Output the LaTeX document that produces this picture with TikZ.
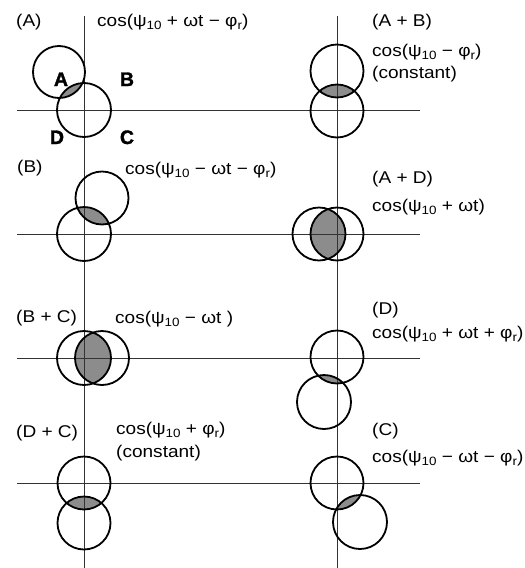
\documentclass[tikz,border=0pt]{standalone}
\usepackage{fontspec}
\usepackage{graphicx}
\setmainfont{Liberation Sans}
\newfontfamily\heavyfont[FakeBold=1.6]{Liberation Sans Bold}
% lowered index such as the 10 in psi_10
\newcommand\lowidx[1]{\raisebox{-3pt}{\fontsize{12}{12}\selectfont #1}}
% slightly widened label text
\newcommand\wtext[1]{\scalebox{1.12}[1]{#1}}
% two overlapping circles with their common part shaded
\newcommand\pairlens[4]{%
  \begin{scope}
    \clip #1 circle[radius=#2];
    \fill[lensfill] #3 circle[radius=#4];
  \end{scope}}
\newcommand\pairrings[4]{%
  \draw[ring] #1 circle[radius=#2];
  \draw[ring] #3 circle[radius=#4];}
\begin{document}
\begin{tikzpicture}[x=1pt,y=-1pt,
  axis/.style={line width=0.9pt, draw=black!80},
  ring/.style={line width=1.8pt, draw=black},
  lensfill/.style={fill=black!45},
  lbl/.style={anchor=base west, inner sep=0pt, font=\fontsize{17}{19}\selectfont},
  quad/.style={anchor=base, inner sep=0pt, font=\heavyfont\fontsize{19.5}{20}\selectfont}]
\useasboundingbox[fill=white] (0,0) rectangle (525,568);

% shaded overlaps
\pairlens{(59,72)}{26pt}{(84,110)}{27pt}
\pairlens{(337,71)}{26.5pt}{(337,111)}{26.5pt}
\pairlens{(102,198)}{26.5pt}{(84,234)}{27pt}
\pairlens{(319,234)}{26.5pt}{(337,234)}{26.5pt}
\pairlens{(84,358)}{27pt}{(102,358)}{27pt}
\pairlens{(337,357)}{26.5pt}{(324,402)}{27pt}
\pairlens{(84,483)}{26.5pt}{(84,523)}{26.5pt}
\pairlens{(337,483)}{26.5pt}{(360,522)}{27pt}

% axes
\draw[axis] (84,16) -- (84,568);
\draw[axis] (337,16) -- (337,568);
\foreach \yy in {110,234,358,483}
  \draw[axis] (17,\yy) -- (420,\yy);

% circles
\pairrings{(59,72)}{26pt}{(84,110)}{27pt}
\pairrings{(337,71)}{26.5pt}{(337,111)}{26.5pt}
\pairrings{(102,198)}{26.5pt}{(84,234)}{27pt}
\pairrings{(319,234)}{26.5pt}{(337,234)}{26.5pt}
\pairrings{(84,358)}{27pt}{(102,358)}{27pt}
\pairrings{(337,357)}{26.5pt}{(324,402)}{27pt}
\pairrings{(84,483)}{26.5pt}{(84,523)}{26.5pt}
\pairrings{(337,483)}{26.5pt}{(360,522)}{27pt}

% quadrant letters
\node[quad] (qA) at (61,86) {A};
\node[quad] (qB) at (127,86) {B};
\node[quad] (qD) at (57,144) {D};
\node[quad] (qC) at (127,144) {C};

% labels
\node[lbl] (tA)   at (16,26)   {\wtext{(A)}};
\node[lbl] (fA)   at (97,26)   {\wtext{cos(ψ\lowidx{10} + ωt − φ\lowidx{r})}};
\node[lbl] (tAB)  at (372,26)  {\wtext{(A + B)}};
\node[lbl] (fAB)  at (372,56)  {\wtext{cos(ψ\lowidx{10} − φ\lowidx{r})}};
\node[lbl] (kAB)  at (372,78)  {\wtext{(constant)}};
\node[lbl] (tB)   at (17,172)  {\wtext{(B)}};
\node[lbl] (fB)   at (125,174) {\wtext{cos(ψ\lowidx{10} − ωt − φ\lowidx{r})}};
\node[lbl] (tAD)  at (372,183) {\wtext{(A + D)}};
\node[lbl] (fAD)  at (372,211) {\wtext{cos(ψ\lowidx{10} + ωt)}};
\node[lbl] (tBC)  at (16,322)  {\wtext{(B + C)}};
\node[lbl] (fBC)  at (115,323) {\wtext{cos(ψ\lowidx{10} − ωt )}};
\node[lbl] (tD)   at (372,314) {\wtext{(D)}};
\node[lbl] (fD)   at (372,338) {\wtext{cos(ψ\lowidx{10} + ωt + φ\lowidx{r})}};
\node[lbl] (tDC)  at (16,437)  {\wtext{(D + C)}};
\node[lbl] (fDC)  at (116,434) {\wtext{cos(ψ\lowidx{10} + φ\lowidx{r})}};
\node[lbl] (kDC)  at (116,457) {\wtext{(constant)}};
\node[lbl] (tC)   at (372,435) {\wtext{(C)}};
\node[lbl] (fC)   at (372,462) {\wtext{cos(ψ\lowidx{10} − ωt − φ\lowidx{r})}};
\end{tikzpicture}
\end{document}
